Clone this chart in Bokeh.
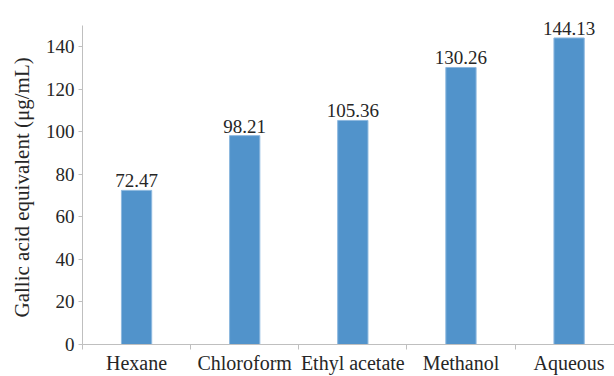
from bokeh.plotting import figure
from bokeh.models import ColumnDataSource, Range1d, FixedTicker, Title
from bokeh.core.properties import value
from bokeh.embed import file_html
from bokeh.resources import INLINE

categories = ["Hexane", "Chloroform", "Ethyl acetate", "Methanol", "Aqueous"]
values = [72.47, 98.21, 105.36, 130.26, 144.13]
value_labels = ["72.47", "98.21", "105.36", "130.26", "144.13"]
y_ticks = [0, 20, 40, 60, 80, 100, 120, 140]
y_axis_max = 150
y_title = "Gallic acid equivalent (μg/mL)"

xs = list(range(1, len(categories) + 1))
src = ColumnDataSource(dict(x=xs, top=values, lab=value_labels))

FONT = "Liberation Serif"
TXT = "#262626"
AX = "#BFBFBF"

# frame reaches the top of the canvas so value labels are not clipped;
# the y axis itself stops at 150
p = figure(width=614, height=376, output_backend="svg", toolbar_location=None,
           x_range=Range1d(0.5, 5.42), y_range=Range1d(0, 150 + 25 * 150 / 319),
           min_border_left=80, min_border_right=0, min_border_top=0, min_border_bottom=32)
p.outline_line_color = None
p.xgrid.visible = False
p.ygrid.visible = False

p.vbar(x="x", top="top", width=0.28, bottom=0, source=src,
       fill_color="#5193CB", line_color="#8DB8DF", line_width=1)
p.text(x="x", y="top", text="lab", source=src, text_align="center",
       text_baseline="bottom", y_offset=-3, text_font=value(FONT),
       text_font_size="19px", text_color=TXT)

# x axis
p.xaxis.ticker = FixedTicker(ticks=xs, minor_ticks=[0.5 + i for i in range(len(categories) + 1)])
p.xaxis.major_label_overrides = {x: c for x, c in zip(xs, categories)}
p.xaxis.major_tick_out = 0
p.xaxis.major_tick_in = 0
p.xaxis.minor_tick_out = 5
p.xaxis.minor_tick_in = 0
p.xaxis.minor_tick_line_color = AX
p.xaxis.axis_line_color = AX
p.xaxis.major_label_standoff = 2
p.xaxis.major_label_text_line_height = 1.0
p.xaxis.major_label_text_font = FONT
p.xaxis.major_label_text_font_size = "20px"
p.xaxis.major_label_text_color = TXT

# y axis
p.yaxis.ticker = FixedTicker(ticks=y_ticks)
p.yaxis.bounds = (0, y_axis_max)
p.yaxis.minor_tick_line_color = None
p.yaxis.major_tick_out = 4
p.yaxis.major_tick_in = 0
p.yaxis.major_tick_line_color = AX
p.yaxis.axis_line_color = AX
p.yaxis.major_label_standoff = 4
p.yaxis.major_label_text_font = FONT
p.yaxis.major_label_text_font_size = "19px"
p.yaxis.major_label_text_color = TXT

ytitle = Title(text=y_title, align="left", offset=27, vertical_align="middle",
               text_font=FONT, text_font_style="normal", text_font_size="21px",
               text_color=TXT, standoff=16)
p.add_layout(ytitle, "left")

open("out.html", "w").write(file_html(p, INLINE))
